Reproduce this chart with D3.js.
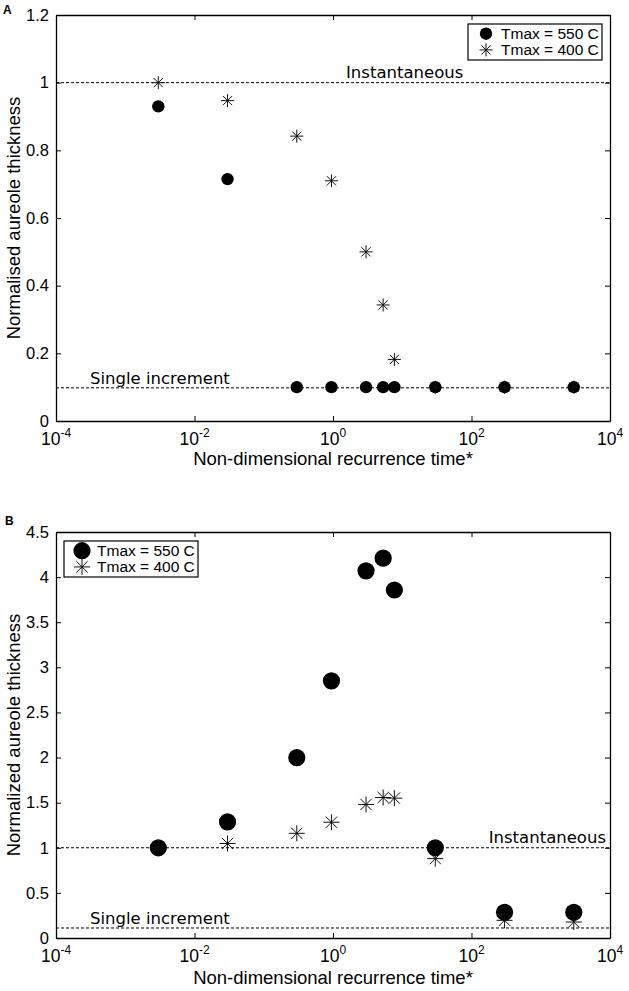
<!DOCTYPE html>
<html><head><meta charset="utf-8">
<script src="https://cdn.jsdelivr.net/npm/d3@7"></script>
<style>body{margin:0;background:#fff}svg{display:block}</style>
</head><body><svg id="c" width="629" height="991"></svg>
<script>
// ---- data ----
const xValues = [0.003, 0.03, 0.3, 0.95, 3, 5.3, 7.7, 30, 300, 3000];
const seriesNames = ["Tmax = 550 C", "Tmax = 400 C"];
const aT550 = [0.93, 0.715, 0.1, 0.1, 0.1, 0.1, 0.1, 0.1, 0.1, 0.1];
const aT400 = [1.0, 0.947, 0.842, 0.71, 0.5, 0.343, 0.182, 0.1, 0.1, 0.1];
const bT550 = [1.0, 1.287, 2.0, 2.85, 4.07, 4.21, 3.857, 1.0, 0.285, 0.285];
const bT400 = [1.0, 1.047, 1.16, 1.283, 1.48, 1.557, 1.55, 0.88, 0.196, 0.177];
const xTicks = [-4, -2, 0, 2, 4];
const aYTicks = [0, 0.2, 0.4, 0.6, 0.8, 1, 1.2];
const bYTicks = [0, 0.5, 1, 1.5, 2, 2.5, 3, 3.5, 4, 4.5];
const aRefLines = {instantaneous: 1.0, single: 0.098};
const bRefLines = {instantaneous: 1.0, single: 0.111};

const svg = d3.select("#c");
const sans = "'Liberation Sans', Arial, Helvetica, sans-serif";
const dv = "'DejaVu Sans', sans-serif";

function starPath(r){
  const a = r*0.7071;
  return `M${-r},0L${r},0M0,${-r}L0,${r}M${-a},${-a}L${a},${a}M${-a},${a}L${a},${-a}`;
}

function panel(opt){
  const {left,right,top,bottom,ymax,yTicks,s550,s400,ylabel,letter,circR,starR,ref,legend,instAnchor,titleOff} = opt;
  const x = d3.scaleLog().domain([1e-4,1e4]).range([left,right]);
  const y = d3.scaleLinear().domain([0,ymax]).range([bottom,top]);
  const g = svg.append("g");

  // reference lines
  [ref.instantaneous, ref.single].forEach(v=>{
    g.append("line").attr("x1",left).attr("x2",right).attr("y1",y(v)).attr("y2",y(v))
      .attr("stroke","#000").attr("stroke-width",1).attr("stroke-dasharray","3,2");
  });
  // axes
  const tv = xTicks.map(e=>Math.pow(10,e));
  const ax = [
    g.append("g").attr("transform",`translate(0,${bottom})`).call(d3.axisBottom(x).tickValues(tv).tickFormat("").tickSizeInner(-5).tickSizeOuter(0)),
    g.append("g").attr("transform",`translate(0,${top})`).call(d3.axisTop(x).tickValues(tv).tickFormat("").tickSizeInner(-5).tickSizeOuter(0)),
    g.append("g").attr("transform",`translate(${left},0)`).call(d3.axisLeft(y).tickValues(yTicks).tickFormat(d=>d3.format("")(+d.toFixed(2))).tickSizeInner(-5).tickSizeOuter(0).tickPadding(7)),
    g.append("g").attr("transform",`translate(${right},0)`).call(d3.axisRight(y).tickValues(yTicks).tickFormat("").tickSizeInner(-5).tickSizeOuter(0))
  ];
  ax.forEach(a=>{
    a.select(".domain").attr("stroke","#000").attr("stroke-width",1.3);
    a.selectAll(".tick line").attr("stroke","#000").attr("stroke-width",1);
    a.selectAll("text").attr("font-family",sans).attr("font-size",16.5).attr("fill","#000");
  });
  // x tick labels with superscripts
  xTicks.forEach(e=>{
    const t = g.append("text").attr("x",x(Math.pow(10,e))).attr("y",bottom+24)
      .attr("text-anchor","middle").attr("font-family",sans).attr("font-size",17.5).attr("fill","#000");
    t.append("tspan").text("10");
    t.append("tspan").attr("dy",-8).attr("font-size",12).text(e<0?"-"+Math.abs(e):String(e));
  });
  // axis titles
  g.append("text").attr("x",(left+right)/2).attr("y",bottom+titleOff).attr("text-anchor","middle")
    .attr("font-family",sans).attr("font-size",18.5).attr("fill","#000").text("Non-dimensional recurrence time*");
  g.append("text").attr("transform",`translate(${left-36},${(top+bottom)/2}) rotate(-90)`).attr("text-anchor","middle")
    .attr("font-family",sans).attr("font-size",18.5).attr("fill","#000").text(ylabel);
  g.append("text").attr("x",letter[0]).attr("y",letter[1]).attr("font-family",sans).attr("font-weight","bold")
    .attr("font-size",12).text(letter[2]);

  // ref labels
  g.append("text").attr("x",instAnchor[0]).attr("y",y(ref.instantaneous)-5).attr("text-anchor",instAnchor[1])
    .attr("font-family",dv).attr("font-size",16.5).attr("fill","#000").text("Instantaneous");
  g.append("text").attr("x",left+34).attr("y",y(ref.single)-4)
    .attr("font-family",dv).attr("font-size",16.5).attr("fill","#000").text("Single increment");

  // data
  g.selectAll(".c").data(xValues.map((d,i)=>[d,s550[i]])).join("circle")
    .attr("cx",d=>x(d[0])).attr("cy",d=>y(d[1])).attr("r",circR).attr("fill","#000");
  g.selectAll(".s").data(xValues.map((d,i)=>[d,s400[i]])).join("path")
    .attr("transform",d=>`translate(${x(d[0])},${y(d[1])})`).attr("d",starPath(starR))
    .attr("stroke","#111").attr("stroke-width",1).attr("fill","none");

  // legend
  const [lx,ly,lw,lh] = legend;
  g.append("rect").attr("x",lx).attr("y",ly).attr("width",lw).attr("height",lh)
    .attr("fill","#fff").attr("stroke","#000").attr("stroke-width",1.2);
  const r1 = ly+lh*0.27, r2 = ly+lh*0.72;
  g.append("circle").attr("cx",lx+18).attr("cy",r1).attr("r",circR).attr("fill","#000");
  g.append("path").attr("transform",`translate(${lx+18},${r2})`).attr("d",starPath(starR)).attr("stroke","#111").attr("stroke-width",1).attr("fill","none");
  [r1,r2].forEach((ry,i)=>{
    g.append("text").attr("x",lx+33).attr("y",ry+5.5).attr("font-family",sans).attr("font-size",15.5).attr("fill","#000").text(seriesNames[i]);
  });
}

panel({left:56,right:610,top:15,bottom:421,ymax:1.2,yTicks:aYTicks,s550:aT550,s400:aT400,
  ylabel:"Normalised aureole thickness",letter:[3,14,"A"],circR:6.2,starR:6.5,ref:aRefLines,
  legend:[468,24,134,36],instAnchor:[346,"start"],titleOff:44});
panel({left:56,right:610,top:532,bottom:938,ymax:4.5,yTicks:bYTicks,s550:bT550,s400:bT400,
  ylabel:"Normalized aureole thickness",letter:[5,525,"B"],circR:8.6,starR:8,ref:bRefLines,
  legend:[64,541,134,36],instAnchor:[606,"end"],titleOff:46});
</script></body></html>
